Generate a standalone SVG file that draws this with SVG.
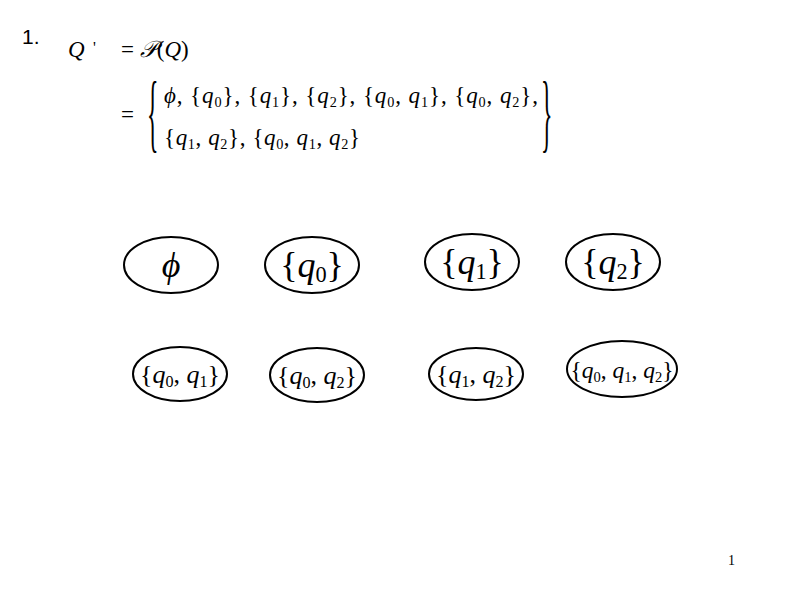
<svg xmlns="http://www.w3.org/2000/svg" width="800" height="600" viewBox="0 0 800 600">
<style>
.m{font-family:"Liberation Serif","DejaVu Serif",serif;fill:#000}
.i{font-style:italic}
.s{font-size:0.62em}
.node ellipse{fill:#fff;stroke:#000;stroke-width:2}
</style>
<rect width="800" height="600" fill="#fff"/>
<text x="22" y="44" font-family="Liberation Sans,Arial,sans-serif" font-size="21">1.</text>
<g id="equation" class="m" font-size="23">
<text x="68" y="57" class="m i">Q</text>
<text x="93" y="53" class="m" font-size="16">'</text>
<text x="121" y="57" class="m">= <tspan font-family="DejaVu Serif,serif" font-style="italic">𝒫</tspan>(<tspan class="i">Q</tspan>)</text>
<text x="121" y="122" class="m">=</text>
<text x="0" y="0" class="m" font-size="28" transform="translate(147,141) scale(0.85,3.07)">{</text>
<text x="164" y="103" class="m" textLength="374" lengthAdjust="spacing"><tspan class="i">ϕ</tspan>, {<tspan class="i">q</tspan><tspan class="s" dy="4">0</tspan><tspan dy="-4">}, {</tspan><tspan class="i">q</tspan><tspan class="s" dy="4">1</tspan><tspan dy="-4">}, {</tspan><tspan class="i">q</tspan><tspan class="s" dy="4">2</tspan><tspan dy="-4">}, {</tspan><tspan class="i">q</tspan><tspan class="s" dy="4">0</tspan><tspan dy="-4">, </tspan><tspan class="i">q</tspan><tspan class="s" dy="4">1</tspan><tspan dy="-4">}, {</tspan><tspan class="i">q</tspan><tspan class="s" dy="4">0</tspan><tspan dy="-4">, </tspan><tspan class="i">q</tspan><tspan class="s" dy="4">2</tspan><tspan dy="-4">},</tspan></text>
<text x="164" y="145" class="m" textLength="196" lengthAdjust="spacing">{<tspan class="i">q</tspan><tspan class="s" dy="4">1</tspan><tspan dy="-4">, </tspan><tspan class="i">q</tspan><tspan class="s" dy="4">2</tspan><tspan dy="-4">}, {</tspan><tspan class="i">q</tspan><tspan class="s" dy="4">0</tspan><tspan dy="-4">, </tspan><tspan class="i">q</tspan><tspan class="s" dy="4">1</tspan><tspan dy="-4">, </tspan><tspan class="i">q</tspan><tspan class="s" dy="4">2</tspan><tspan dy="-4">}</tspan></text>
<text x="0" y="0" class="m" font-size="28" transform="translate(541,141) scale(0.85,3.07)">}</text>
</g>
<g id="n-empty" class="node"><ellipse cx="171" cy="265" rx="47" ry="28"/><text x="171" y="277" class="m i" font-size="36" text-anchor="middle">ϕ</text></g>
<g id="n-q0" class="node"><ellipse cx="312" cy="265" rx="47" ry="28"/><text x="312" y="277" class="m" font-size="36" text-anchor="middle">{<tspan class="i">q</tspan><tspan class="s" dy="5">0</tspan><tspan dy="-5">}</tspan></text></g>
<g id="n-q1" class="node"><ellipse cx="472" cy="262" rx="47" ry="28"/><text x="472" y="274" class="m" font-size="36" text-anchor="middle">{<tspan class="i">q</tspan><tspan class="s" dy="5">1</tspan><tspan dy="-5">}</tspan></text></g>
<g id="n-q2" class="node"><ellipse cx="613" cy="262" rx="47" ry="28"/><text x="613" y="274" class="m" font-size="36" text-anchor="middle">{<tspan class="i">q</tspan><tspan class="s" dy="5">2</tspan><tspan dy="-5">}</tspan></text></g>
<g id="n-q0q1" class="node"><ellipse cx="180" cy="374" rx="47" ry="27"/><text x="180" y="383" class="m" font-size="26" text-anchor="middle">{<tspan class="i">q</tspan><tspan class="s" dy="4">0</tspan><tspan dy="-4">, </tspan><tspan class="i">q</tspan><tspan class="s" dy="4">1</tspan><tspan dy="-4">}</tspan></text></g>
<g id="n-q0q2" class="node"><ellipse cx="317" cy="375" rx="47" ry="27"/><text x="317" y="384" class="m" font-size="26" text-anchor="middle">{<tspan class="i">q</tspan><tspan class="s" dy="4">0</tspan><tspan dy="-4">, </tspan><tspan class="i">q</tspan><tspan class="s" dy="4">2</tspan><tspan dy="-4">}</tspan></text></g>
<g id="n-q1q2" class="node"><ellipse cx="476" cy="374" rx="47" ry="26"/><text x="476" y="383" class="m" font-size="26" text-anchor="middle">{<tspan class="i">q</tspan><tspan class="s" dy="4">1</tspan><tspan dy="-4">, </tspan><tspan class="i">q</tspan><tspan class="s" dy="4">2</tspan><tspan dy="-4">}</tspan></text></g>
<g id="n-q0q1q2" class="node"><ellipse cx="622" cy="369" rx="55" ry="28"/><text x="622" y="378" class="m" font-size="23.5" text-anchor="middle">{<tspan class="i">q</tspan><tspan class="s" dy="4">0</tspan><tspan dy="-4">, </tspan><tspan class="i">q</tspan><tspan class="s" dy="4">1</tspan><tspan dy="-4">, </tspan><tspan class="i">q</tspan><tspan class="s" dy="4">2</tspan><tspan dy="-4">}</tspan></text></g>
<g id="connectors"></g>
<text x="728" y="565" class="m" font-size="14">1</text>
</svg>
